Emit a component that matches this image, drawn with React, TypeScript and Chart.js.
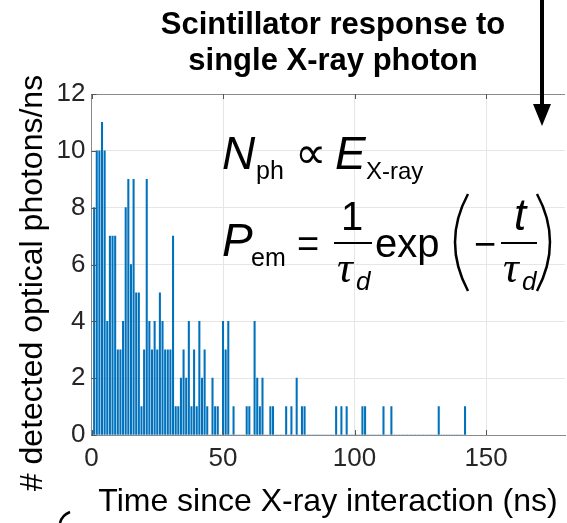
import React, { useEffect, useRef } from 'react';
import { Chart, registerables } from 'chart.js';

Chart.register(...registerables);

const FONT = '"Liberation Sans", Arial, Helvetica, sans-serif';
const SERIF = '"Liberation Serif", "Times New Roman", serif';

// photon counts per 1-ns bin, index = time (ns) from 0 to 142
const counts = [
  0, 8, 10, 10, 11, 10, 4, 7, 7, 7,
  3, 3, 4, 8, 9, 6, 9, 5, 5, 1,
  3, 9, 4, 3, 4, 3, 5, 4, 3, 3,
  3, 7, 1, 1, 2, 3, 2, 4, 1, 3,
  1, 4, 2, 3, 1, 0, 2, 1, 1, 0,
  4, 3, 4, 0, 1, 0, 0, 0, 0, 1,
  1, 0, 4, 2, 1, 2, 0, 0, 1, 1,
  0, 0, 0, 0, 1, 0, 1, 0, 2, 0,
  1, 1, 0, 0, 0, 0, 0, 0, 0, 0,
  0, 0, 0, 1, 0, 1, 0, 1, 0, 0,
  0, 0, 0, 1, 1, 0, 0, 0, 0, 0,
  0, 1, 0, 0, 1, 0, 0, 0, 0, 0,
  0, 0, 0, 0, 0, 0, 0, 0, 0, 0,
  0, 0, 1, 0, 0, 0, 0, 0, 0, 0,
  0, 0, 1,
];

const xTickValues = [0, 50, 100, 150];
const yTickValues = [0, 2, 4, 6, 8, 10, 12];
const X_MIN = 0;
const X_MAX = 180;
const Y_MIN = 0;
const Y_MAX = 12;

const titleLines = ['Scintillator response to', 'single X-ray photon'];
const xAxisLabel = 'Time since X-ray interaction (ns)';
const yAxisLabel = '# detected optical photons/ns';

const W = 567;
const H = 523;

function txt(ctx: CanvasRenderingContext2D, s: string, x: number, y: number, font: string, align: CanvasTextAlign = 'left') {
  ctx.font = font;
  ctx.textAlign = align;
  ctx.textBaseline = 'alphabetic';
  ctx.fillText(s, x, y);
}

const overlay = {
  id: 'overlay',
  afterDraw(chart: any) {
    const ctx: CanvasRenderingContext2D = chart.ctx;
    const { left, right, top, bottom } = chart.chartArea;
    const xs = chart.scales.x;
    const ys = chart.scales.y;
    ctx.save();

    // top frame
    ctx.strokeStyle = '#8a8a8a';
    ctx.lineWidth = 1;
    ctx.beginPath();
    ctx.moveTo(left, Math.round(top) + 0.5);
    ctx.lineTo(right, Math.round(top) + 0.5);
    ctx.stroke();

    // inward tick marks
    ctx.strokeStyle = '#555';
    ctx.beginPath();
    xTickValues.forEach((v) => {
      const px = Math.round(xs.getPixelForValue(v)) + 0.5;
      ctx.moveTo(px, bottom);
      ctx.lineTo(px, bottom - 5);
      ctx.moveTo(px, top);
      ctx.lineTo(px, top + 5);
    });
    yTickValues.forEach((v) => {
      const py = Math.round(ys.getPixelForValue(v)) + 0.5;
      ctx.moveTo(left, py);
      ctx.lineTo(left + 5, py);
    });
    ctx.stroke();

    ctx.fillStyle = '#000';
    // title
    txt(ctx, titleLines[0], 333, 34, `bold 31px ${FONT}`, 'center');
    txt(ctx, titleLines[1], 333, 70, `bold 31px ${FONT}`, 'center');

    // arrow
    ctx.strokeStyle = '#000';
    ctx.lineWidth = 4;
    ctx.beginPath();
    ctx.moveTo(542, 0);
    ctx.lineTo(542, 108);
    ctx.stroke();
    ctx.beginPath();
    ctx.moveTo(533, 104);
    ctx.lineTo(551, 104);
    ctx.lineTo(542, 126);
    ctx.closePath();
    ctx.fill();

    // axis titles
    ctx.fillStyle = '#000';
    txt(ctx, xAxisLabel, 328, 511, `32px ${FONT}`, 'center');
    ctx.save();
    ctx.translate(42, 283);
    ctx.rotate(-Math.PI / 2);
    txt(ctx, yAxisLabel, 0, 0, `32px ${FONT}`, 'center');
    ctx.restore();

    // small curve at bottom-left
    ctx.strokeStyle = '#000';
    ctx.lineWidth = 2.5;
    ctx.beginPath();
    ctx.moveTo(60, 523);
    ctx.quadraticCurveTo(62, 515, 70, 512);
    ctx.stroke();

    // equation 1: N_ph ∝ E_X-ray
    txt(ctx, 'N', 222, 169, `italic 46px ${FONT}`);
    txt(ctx, 'ph', 256, 179, `25px ${FONT}`);
    txt(ctx, '\u221D', 295, 168, `44px "DejaVu Sans", ${FONT}`);
    txt(ctx, 'E', 335, 169, `italic 46px ${FONT}`);
    txt(ctx, 'X-ray', 366, 179, `24px ${FONT}`);

    // equation 2: P_em = 1/tau_d exp(-t/tau_d)
    txt(ctx, 'P', 222, 256, `italic 46px ${FONT}`);
    txt(ctx, 'em', 251, 266, `25px ${FONT}`);
    txt(ctx, '=', 297, 257, `38px ${FONT}`);
    // fraction 1 / tau_d
    ctx.fillRect(334, 242, 38, 2);
    txt(ctx, '1', 352, 230, `40px ${FONT}`, 'center');
    txt(ctx, '\u03C4', 337, 282, `italic 44px ${SERIF}`);
    txt(ctx, 'd', 356, 290, `italic 26px ${FONT}`);
    txt(ctx, 'exp', 375, 257, `40px ${FONT}`);
    // big parentheses
    ctx.lineWidth = 2.5;
    ctx.beginPath();
    ctx.moveTo(468, 194);
    ctx.quadraticCurveTo(442, 242, 468, 291);
    ctx.stroke();
    ctx.beginPath();
    ctx.moveTo(537, 194);
    ctx.quadraticCurveTo(563, 242, 537, 291);
    ctx.stroke();
    txt(ctx, '\u2212', 474, 257, `38px ${FONT}`);
    ctx.fillRect(501, 242, 36, 2);
    txt(ctx, 't', 520, 230, `italic 44px ${FONT}`, 'center');
    txt(ctx, '\u03C4', 503, 282, `italic 44px ${SERIF}`);
    txt(ctx, 'd', 522, 290, `italic 26px ${FONT}`);

    ctx.restore();
  },
};

export default function App() {
  const ref = useRef<HTMLCanvasElement | null>(null);

  useEffect(() => {
    document.body.style.margin = '0';
    const canvas = ref.current;
    if (!canvas) return;
    const chart = new Chart(canvas, {
      type: 'bar',
      data: {
        datasets: [
          {
            data: counts.map((c, i) => ({ x: i, y: c })),
            backgroundColor: '#0072BD',
            borderWidth: 0,
            barThickness: 1.4,
          } as any,
        ],
      },
      options: {
        animation: false,
        responsive: false,
        maintainAspectRatio: false,
        devicePixelRatio: 1,
        layout: { padding: { top: 94, right: 2, left: 0, bottom: 0 } },
        plugins: {
          legend: { display: false },
          tooltip: { enabled: false },
          title: { display: false },
        },
        scales: {
          x: {
            type: 'linear',
            min: X_MIN,
            max: X_MAX,
            offset: false,
            ticks: {
              stepSize: 50,
              includeBounds: false,
              color: '#262626',
              font: { family: FONT, size: 26 },
              padding: 8,
              maxRotation: 0,
              autoSkip: false,
            },
            grid: { color: '#e6e6e6', lineWidth: 1, drawTicks: false, offset: false },
            border: { color: '#8a8a8a', width: 1 },
            afterFit: (s: any) => {
              s.height = H - 435;
            },
          } as any,
          y: {
            type: 'linear',
            min: Y_MIN,
            max: Y_MAX,
            ticks: {
              stepSize: 2,
              color: '#262626',
              font: { family: FONT, size: 26 },
              padding: 6,
            },
            grid: { color: '#e6e6e6', lineWidth: 1, drawTicks: false },
            border: { color: '#8a8a8a', width: 1 },
            afterFit: (s: any) => {
              s.width = 91.5;
            },
          } as any,
        },
      },
      plugins: [overlay],
    });
    return () => chart.destroy();
  }, []);

  return (
    <div style={{ position: 'fixed', left: 0, top: 0, width: W, height: H, background: '#fff' }}>
      <canvas ref={ref} width={W} height={H} style={{ display: 'block', width: W, height: H }} />
    </div>
  );
}
